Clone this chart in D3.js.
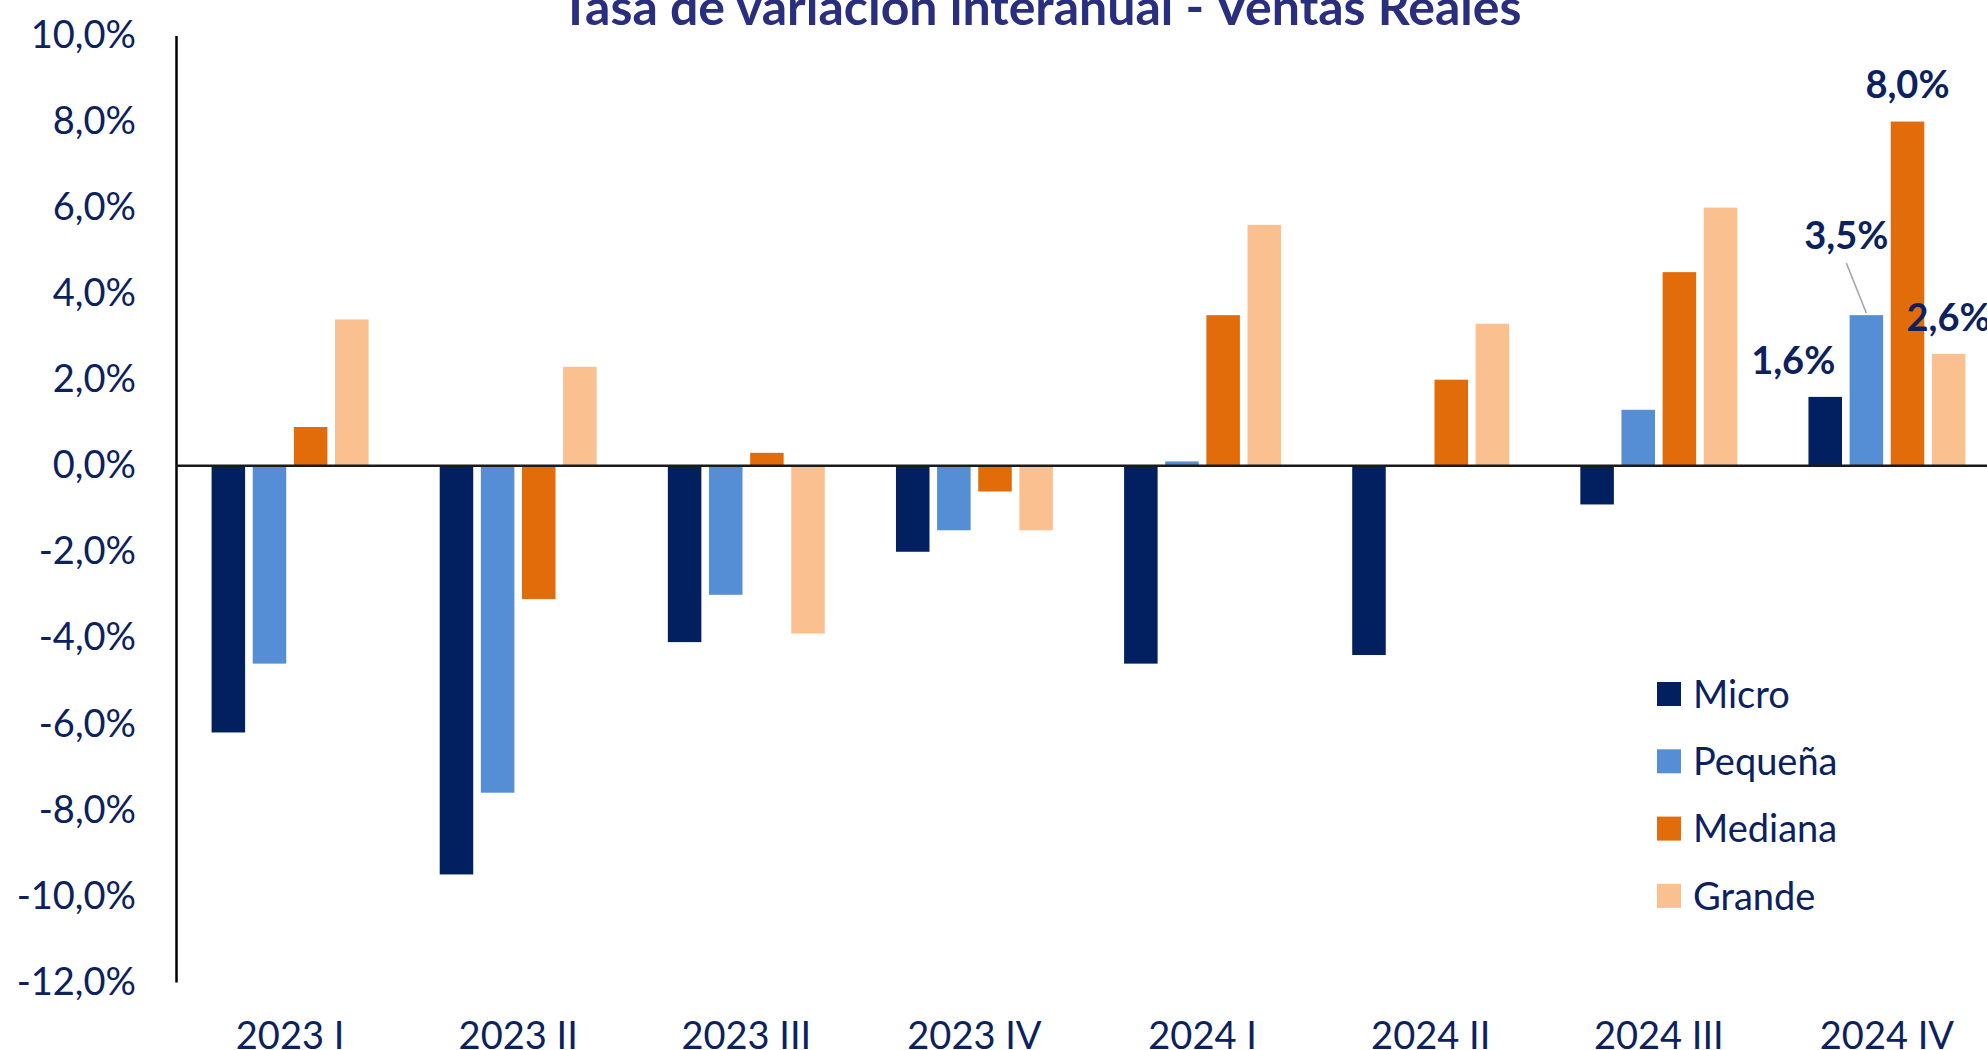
<!doctype html>
<html>
<head>
<meta charset="utf-8">
<script src="https://cdnjs.cloudflare.com/ajax/libs/d3/7.8.5/d3.min.js"></script>
<style>
  html, body { margin: 0; padding: 0; background: #fff; overflow: hidden; }
  text { font-family: Lato, "Open Sans", sans-serif; }
</style>
</head>
<body>
<div id="viz"></div>
<script>
// data
var categories = ["2023 I", "2023 II", "2023 III", "2023 IV", "2024 I", "2024 II", "2024 III", "2024 IV"];
var seriesNames = ["Micro", "Pequeña", "Mediana", "Grande"];
var micro   = [-6.2, -9.5, -4.1, -2.0, -4.6, -4.4, -0.9, 1.6];
var pequena = [-4.6, -7.6, -3.0, -1.5,  0.1,  0.0,  1.3, 3.5];
var mediana = [ 0.9, -3.1,  0.3, -0.6,  3.5,  2.0,  4.5, 8.0];
var grande  = [ 3.4,  2.3, -3.9, -1.5,  5.6,  3.3,  6.0, 2.6];
var yTicks = [10, 8, 6, 4, 2, 0, -2, -4, -6, -8, -10, -12];
var title = "Tasa de variación interanual - Ventas Reales";

var seriesValues = [micro, pequena, mediana, grande];
var colors = ["#02205F", "#558ED5", "#E36C0A", "#FAC090"];
var navy = "#0B2160";

var width = 1987, height = 1050;
var plotLeft = 176, plotRight = 2001, plotTop = 35.5, plotBottom = 982;

var svg = d3.select("#viz").append("svg")
    .attr("width", width)
    .attr("height", height);

var y = d3.scaleLinear().domain([-12, 10]).range([plotBottom, plotTop]);

var x0 = d3.scaleBand()
    .domain(categories)
    .range([plotLeft, plotRight])
    .paddingInner(0.312)
    .paddingOuter(0.156);

var x1 = d3.scaleBand()
    .domain(seriesNames)
    .range([0, x0.bandwidth()])
    .paddingInner(0.185);

var fmt = function (v) { return d3.format(".1f")(v).replace(".", ",").replace("−", "-") + "%"; };

// title
svg.append("text")
    .attr("x", 1041)
    .attr("y", 25)
    .attr("text-anchor", "middle")
    .attr("font-size", 50)
    .attr("font-weight", "bold")
    .attr("fill", "#2A2E7F")
    .text(title);

// y axis labels
var yAxis = d3.axisLeft(y).tickValues(yTicks).tickSize(0).tickPadding(40).tickFormat(fmt);
var gy = svg.append("g")
    .attr("transform", "translate(" + plotLeft + ",0)")
    .call(yAxis);
gy.select(".domain").attr("stroke", "#000").attr("stroke-width", 2.5);
gy.selectAll("text")
    .attr("font-size", 38)
    .attr("fill", navy)
    .style("font-family", "Lato, sans-serif");

// bars
var groups = svg.append("g").selectAll("g")
    .data(categories)
    .join("g")
    .attr("transform", function (d) { return "translate(" + x0(d) + ",0)"; });

groups.selectAll("rect")
    .data(function (d, i) {
        return seriesNames.map(function (s, j) { return { s: s, j: j, v: seriesValues[j][i] }; });
    })
    .join("rect")
    .attr("x", function (d) { return x1(d.s); })
    .attr("y", function (d) { return y(Math.max(0, d.v)); })
    .attr("width", x1.bandwidth())
    .attr("height", function (d) { return Math.abs(y(d.v) - y(0)); })
    .attr("fill", function (d) { return colors[d.j]; });

// zero line
svg.append("line")
    .attr("x1", plotLeft).attr("x2", plotRight)
    .attr("y1", y(0)).attr("y2", y(0))
    .attr("stroke", "#1a1a1a")
    .attr("stroke-width", 2.5);

// x axis labels
var xAxis = d3.axisBottom(x0).tickSize(0).tickPadding(0);
var gx = svg.append("g")
    .attr("transform", "translate(0," + 1049 + ")")
    .call(xAxis);
gx.select(".domain").remove();
gx.selectAll("text")
    .attr("dy", 0)
    .attr("y", 0)
    .attr("font-size", 38)
    .attr("fill", navy)
    .style("font-family", "Lato, sans-serif");

// data labels for last quarter
var last = categories.length - 1;
var lblOffsets = [[-32, -37], [-20, -80], [0, -37], [0, -37]];
seriesNames.forEach(function (s, j) {
    var v = seriesValues[j][last];
    var cx = x0(categories[last]) + x1(s) + x1.bandwidth() / 2;
    var ty = y(v);
    var lx = cx + lblOffsets[j][0], ly = ty + lblOffsets[j][1];
    if (j === 1) {
        svg.append("line")
            .attr("x1", cx).attr("y1", ty - 2)
            .attr("x2", lx).attr("y2", ly + 28)
            .attr("stroke", "#A6A6A6").attr("stroke-width", 1.5);
    }
    svg.append("text")
        .attr("x", lx)
        .attr("y", ly)
        .attr("dy", "0.36em")
        .attr("text-anchor", "middle")
        .attr("font-size", 38)
        .attr("font-weight", "bold")
        .attr("fill", navy)
        .text(fmt(v));
});

// legend
var legend = svg.append("g").selectAll("g")
    .data(seriesNames)
    .join("g")
    .attr("transform", function (d, i) { return "translate(1657," + (682 + i * 67.3) + ")"; });
legend.append("rect")
    .attr("width", 24).attr("height", 24)
    .attr("fill", function (d, i) { return colors[i]; });
legend.append("text")
    .attr("x", 36)
    .attr("y", 12)
    .attr("dy", "0.36em")
    .attr("font-size", 38)
    .attr("fill", navy)
    .text(function (d) { return d; });
</script>
</body>
</html>
